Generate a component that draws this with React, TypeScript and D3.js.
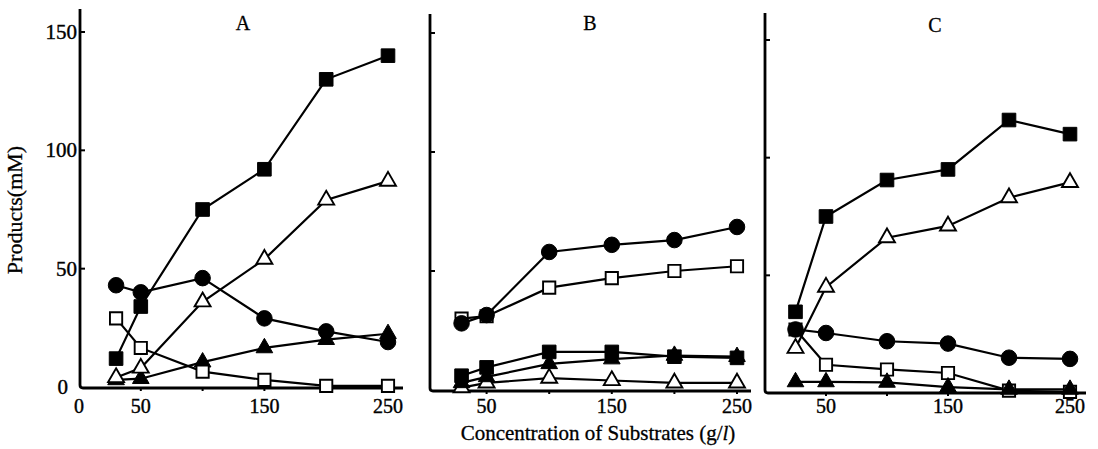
import React from 'react';
import * as d3 from 'd3';

// concentration of substrates (g/l) at which products were measured
const concAB = [30, 50, 100, 150, 200, 250];
const concC = [25, 50, 100, 150, 200, 250];

// panel A
const aFilledSquare = [12, 34, 75, 92, 130, 140];
const aOpenTriangle = [4, 8, 36, 54, 79, 87];
const aFilledCircle = [43, 40, 46, 29, 23.5, 19];
const aOpenSquare = [29, 16.5, 6.5, 3, 0.5, 0.5];
const aFilledTriangle = [3, 3.5, 10.5, 16.5, 20, 22.5];

// panel B
const bFilledSquare = [6, 9.5, 16, 16, 14, 13.5];
const bOpenTriangle = [1, 3, 5, 4, 3, 3];
const bFilledCircle = [28, 31.5, 58, 61, 63, 68.5];
const bOpenSquare = [30, 31, 43, 47, 50, 52];
const bFilledTriangle = [3, 5.5, 11, 13, 14.5, 14];

// panel C
const cFilledSquare = [34.5, 75, 90.5, 95, 116, 110];
const cOpenTriangle = [19, 45, 66, 71, 83, 89.5];
const cFilledCircle = [27, 25.5, 22, 21, 15, 14.5];
const cOpenSquare = [27, 12, 10, 8.5, 1, 0.5];
const cFilledTriangle = [4.7, 4.7, 4.5, 2.5, 1.5, 1.5];

const panelNames = ['A', 'B', 'C'];
const yTicks = [0, 50, 100, 150];
const xTicksA = [0, 50, 150, 250];
const xTicksBC = [50, 150, 250];

type Marker = 'filledSquare' | 'openTriangle' | 'filledCircle' | 'openSquare' | 'filledTriangle';

const FONT = '"Liberation Serif", "DejaVu Serif", serif';

const panels = [
  {
    name: panelNames[0], x: concAB, xTicks: xTicksA, yLabels: true,
    series: [
      { m: 'filledTriangle' as Marker, v: aFilledTriangle },
      { m: 'openSquare' as Marker, v: aOpenSquare },
      { m: 'filledCircle' as Marker, v: aFilledCircle },
      { m: 'openTriangle' as Marker, v: aOpenTriangle },
      { m: 'filledSquare' as Marker, v: aFilledSquare },
    ],
    xr: [79, 388], yr: [387, 32], axisX: 80, axisTop: 9, axisEnd: 403, base: 388, title: [243, 30],
  },
  {
    name: panelNames[1], x: concAB, xTicks: xTicksBC, yLabels: false,
    series: [
      { m: 'openTriangle' as Marker, v: bOpenTriangle },
      { m: 'filledTriangle' as Marker, v: bFilledTriangle },
      { m: 'filledSquare' as Marker, v: bFilledSquare },
      { m: 'openSquare' as Marker, v: bOpenSquare },
      { m: 'filledCircle' as Marker, v: bFilledCircle },
    ],
    xr: [424, 737], yr: [390, 33], axisX: 430, axisTop: 14, axisEnd: 751, base: 391, title: [590, 30],
  },
  {
    name: panelNames[2], x: concC, xTicks: xTicksBC, yLabels: false,
    series: [
      { m: 'openSquare' as Marker, v: cOpenSquare },
      { m: 'filledTriangle' as Marker, v: cFilledTriangle },
      { m: 'filledCircle' as Marker, v: cFilledCircle },
      { m: 'openTriangle' as Marker, v: cOpenTriangle },
      { m: 'filledSquare' as Marker, v: cFilledSquare },
    ],
    xr: [765, 1070], yr: [393, 40], axisX: 765, axisTop: 13, axisEnd: 1086, base: 393, title: [935, 32],
  },
];

const symbolFor = (m: Marker) => {
  if (m === 'filledSquare' || m === 'openSquare') return d3.symbol().type(d3.symbolSquare).size(m === 'openSquare' ? 150 : 185)();
  if (m === 'filledCircle') return d3.symbol().type(d3.symbolCircle).size(190)();
  return d3.symbol().type(d3.symbolTriangle).size(m === 'openTriangle' ? 110 : 120)();
};

function Panel({ p }: { p: typeof panels[number] }) {
  const x = d3.scaleLinear().domain([0, 250]).range(p.xr);
  const y = d3.scaleLinear().domain([0, 150]).range(p.yr);
  const line = d3.line<number>().x((_, i) => x(p.x[i])).y(d => y(d));

  return (
    <g>
      {/* axes */}
      <path
        d={`M${p.axisX},${p.axisTop}V${p.base - 3}Q${p.axisX},${p.base} ${p.axisX + 3},${p.base}H${p.axisEnd}`}
        fill="none" stroke="#000" strokeWidth={2.8}
      />
      {yTicks.slice(1).map(t => (
        <line key={t} x1={p.axisX} x2={p.axisX + 5} y1={y(t)} y2={y(t)} stroke="#000" strokeWidth={2} />
      ))}
      {[50, 100, 150, 200, 250].map(t => (
        <line key={t} x1={x(t)} x2={x(t)} y1={p.base} y2={p.base + 3} stroke="#000" strokeWidth={2} />
      ))}
      {p.yLabels && yTicks.map(t => (
        <text key={t} x={t === 0 ? 68 : 77} y={y(t) + 7} textAnchor="end" fontFamily={FONT} fontSize={21}
          stroke="#000" strokeWidth={0.4}>{t}</text>
      ))}
      {p.xTicks.map(t => (
        <text key={t} x={x(t)} y={413} textAnchor="middle" fontFamily={FONT} fontSize={20}
          stroke="#000" strokeWidth={0.4}>{t}</text>
      ))}
      <text x={p.title[0]} y={p.title[1]} textAnchor="middle" fontFamily={FONT} fontSize={20}
        stroke="#000" strokeWidth={0.3}>{p.name}</text>

      {/* series lines */}
      {p.series.map(s => (
        <path key={s.m} d={line(s.v) || ''} fill="none" stroke="#000" strokeWidth={2.2} />
      ))}
      {/* markers */}
      {p.series.map(s => (
        <g key={s.m + '-pts'}>
          {s.v.map((v, i) => (
            <path
              key={i}
              d={symbolFor(s.m) || ''}
              transform={`translate(${x(p.x[i])},${y(v)})`}
              fill={s.m.startsWith('open') ? '#fff' : '#000'}
              stroke="#000"
              strokeWidth={s.m.startsWith('open') ? 1.9 : 1}
            />
          ))}
        </g>
      ))}
    </g>
  );
}

export default function App() {
  return (
    <svg width={1098} height={449} style={{ position: 'absolute', left: 0, top: 0, background: '#fff' }}>
      <rect width={1098} height={449} fill="#fff" />
      {panels.map(p => <Panel key={p.name} p={p} />)}
      <text
        transform="translate(22,210) rotate(-90)"
        textAnchor="middle" fontFamily={FONT} fontSize={22} stroke="#000" strokeWidth={0.3}
      >Products(mM)</text>
      <text x={598} y={440} textAnchor="middle" fontFamily={FONT} fontSize={21} stroke="#000" strokeWidth={0.3}>
        Concentration of Substrates (g/<tspan fontStyle="italic">l</tspan>)
      </text>
    </svg>
  );
}
